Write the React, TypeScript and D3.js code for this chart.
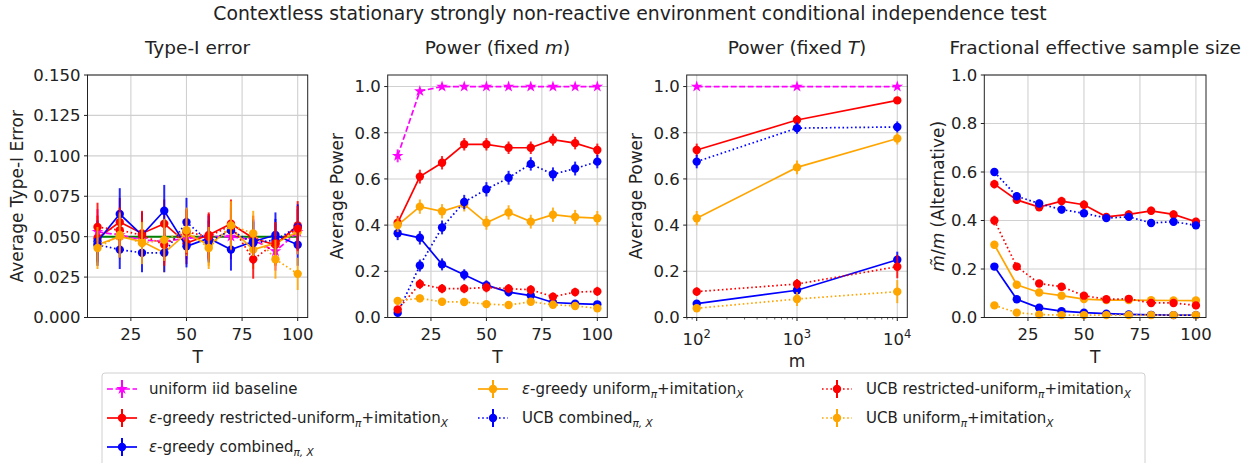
import React from 'react';
import * as d3 from 'd3';

// ---------------- DATA ----------------
const T_VALUES = [10, 20, 30, 40, 50, 60, 70, 80, 90, 100];
const M_VALUES = [100, 1000, 10000];
const SIGNIFICANCE_LEVEL = 0.05;

const typeITicks = [0, 0.025, 0.05, 0.075, 0.1, 0.125, 0.15];
const unitTicks = [0, 0.2, 0.4, 0.6, 0.8, 1.0];
const tTicks = [25, 50, 75, 100];
const mTicks = [100, 1000, 10000];

// Panel 1: Type-I error vs T
const t1Uniform = [0.053, 0.051, 0.048, 0.047, 0.049, 0.050, 0.050, 0.048, 0.041, 0.053];
const t1UniformErr = [0.014, 0.014, 0.013, 0.013, 0.013, 0.014, 0.014, 0.013, 0.012, 0.014];
const t1EgRestricted = [0.049, 0.059, 0.052, 0.058, 0.046, 0.051, 0.058, 0.049, 0.045, 0.057];
const t1EgRestrictedErr = [0.014, 0.015, 0.014, 0.015, 0.013, 0.014, 0.015, 0.014, 0.013, 0.015];
const t1EgCombined = [0.047, 0.064, 0.051, 0.066, 0.044, 0.049, 0.042, 0.047, 0.051, 0.045];
const t1EgCombinedErr = [0.013, 0.016, 0.014, 0.016, 0.013, 0.014, 0.013, 0.013, 0.014, 0.013];
const t1EgUniform = [0.045, 0.050, 0.047, 0.040, 0.052, 0.045, 0.055, 0.042, 0.046, 0.053];
const t1EgUniformErr = [0.013, 0.014, 0.013, 0.012, 0.014, 0.013, 0.014, 0.012, 0.013, 0.014];
const t1UcbCombined = [0.045, 0.042, 0.040, 0.040, 0.059, 0.047, 0.054, 0.046, 0.048, 0.056];
const t1UcbCombinedErr = [0.013, 0.012, 0.012, 0.012, 0.015, 0.013, 0.014, 0.013, 0.013, 0.014];
const t1UcbRestricted = [0.056, 0.054, 0.051, 0.045, 0.053, 0.050, 0.057, 0.036, 0.046, 0.055];
const t1UcbRestrictedErr = [0.015, 0.014, 0.014, 0.013, 0.014, 0.014, 0.015, 0.012, 0.013, 0.014];
const t1UcbUniform = [0.043, 0.051, 0.046, 0.048, 0.054, 0.043, 0.057, 0.052, 0.036, 0.027];
const t1UcbUniformErr = [0.013, 0.014, 0.013, 0.013, 0.014, 0.013, 0.015, 0.014, 0.012, 0.010];

// Panel 2: Power (fixed m) vs T
const pmUniform = [0.70, 0.98, 1.0, 1.0, 1.0, 1.0, 1.0, 1.0, 1.0, 1.0];
const pmUniformErr = [0.028, 0.009, 0, 0, 0, 0, 0, 0, 0, 0];
const pmEgRestricted = [0.41, 0.61, 0.67, 0.75, 0.75, 0.735, 0.735, 0.77, 0.755, 0.725];
const pmEgRestrictedErr = [0.03, 0.03, 0.029, 0.027, 0.027, 0.027, 0.027, 0.026, 0.027, 0.028];
const pmEgCombined = [0.365, 0.345, 0.23, 0.185, 0.14, 0.11, 0.095, 0.065, 0.06, 0.057];
const pmEgCombinedErr = [0.03, 0.029, 0.026, 0.024, 0.021, 0.019, 0.018, 0.015, 0.015, 0.014];
const pmEgUniform = [0.40, 0.48, 0.46, 0.49, 0.41, 0.455, 0.415, 0.445, 0.435, 0.43];
const pmEgUniformErr = [0.03, 0.031, 0.031, 0.031, 0.03, 0.031, 0.03, 0.031, 0.031, 0.031];
const pmUcbCombined = [0.02, 0.225, 0.39, 0.50, 0.555, 0.605, 0.665, 0.62, 0.645, 0.675];
const pmUcbCombinedErr = [0.009, 0.026, 0.03, 0.031, 0.031, 0.03, 0.029, 0.03, 0.03, 0.029];
const pmUcbRestricted = [0.035, 0.145, 0.125, 0.125, 0.13, 0.125, 0.12, 0.09, 0.11, 0.113];
const pmUcbRestrictedErr = [0.011, 0.022, 0.02, 0.02, 0.021, 0.02, 0.02, 0.018, 0.019, 0.02];
const pmUcbUniform = [0.072, 0.083, 0.068, 0.067, 0.058, 0.054, 0.068, 0.055, 0.05, 0.04];
const pmUcbUniformErr = [0.016, 0.017, 0.016, 0.016, 0.014, 0.014, 0.016, 0.014, 0.014, 0.012];

// Panel 3: Power (fixed T) vs m
const ptUniform = [1.0, 1.0, 1.0];
const ptUniformErr = [0, 0, 0];
const ptEgRestricted = [0.725, 0.855, 0.94];
const ptEgRestrictedErr = [0.028, 0.022, 0.015];
const ptEgCombined = [0.06, 0.118, 0.25];
const ptEgCombinedErr = [0.015, 0.02, 0.035];
const ptEgUniform = [0.43, 0.65, 0.775];
const ptEgUniformErr = [0.031, 0.03, 0.026];
const ptUcbCombined = [0.675, 0.82, 0.825];
const ptUcbCombinedErr = [0.029, 0.024, 0.024];
const ptUcbRestricted = [0.112, 0.145, 0.22];
const ptUcbRestrictedErr = [0.019, 0.022, 0.05];
const ptUcbUniform = [0.04, 0.08, 0.112];
const ptUcbUniformErr = [0.012, 0.03, 0.05];

// Panel 4: Fractional effective sample size vs T
const esEgRestricted = [0.55, 0.485, 0.455, 0.48, 0.465, 0.415, 0.425, 0.44, 0.425, 0.395];
const esEgRestrictedErr = [0.018, 0.017, 0.017, 0.018, 0.018, 0.016, 0.017, 0.017, 0.017, 0.016];
const esEgCombined = [0.21, 0.075, 0.04, 0.026, 0.02, 0.016, 0.013, 0.011, 0.01, 0.01];
const esEgCombinedErr = [0.012, 0.008, 0.005, 0.004, 0.003, 0.003, 0.002, 0.002, 0.002, 0.002];
const esEgUniform = [0.30, 0.135, 0.103, 0.09, 0.076, 0.072, 0.072, 0.071, 0.07, 0.07];
const esEgUniformErr = [0.014, 0.01, 0.008, 0.007, 0.006, 0.006, 0.006, 0.006, 0.006, 0.006];
const esUcbCombined = [0.60, 0.50, 0.47, 0.445, 0.43, 0.41, 0.415, 0.39, 0.395, 0.38];
const esUcbCombinedErr = [0.016, 0.016, 0.016, 0.016, 0.015, 0.015, 0.015, 0.015, 0.015, 0.015];
const esUcbRestricted = [0.40, 0.21, 0.14, 0.127, 0.09, 0.075, 0.077, 0.06, 0.06, 0.05];
const esUcbRestrictedErr = [0.02, 0.016, 0.013, 0.012, 0.01, 0.009, 0.009, 0.008, 0.008, 0.007];
const esUcbUniform = [0.05, 0.02, 0.012, 0.01, 0.01, 0.01, 0.01, 0.01, 0.01, 0.01];
const esUcbUniformErr = [0.006, 0.003, 0.002, 0.002, 0.002, 0.002, 0.002, 0.002, 0.002, 0.002];

// ---------------- STYLE ----------------
const FONT = 'DejaVu Sans, sans-serif';
const TOP = 75;
const BOTTOM = 317.5;
const PANEL_X: [number, number][] = [[87.5, 307.7], [387.7, 607.3], [686.7, 907.3], [984.3, 1206]];

type Style = { color: string; dash: string; marker: 'circle' | 'star' };
const STYLES: Record<string, Style> = {
  uniform: { color: '#ff00ff', dash: '5.9,2.6', marker: 'star' },
  egRestricted: { color: '#ff0000', dash: '', marker: 'circle' },
  egCombined: { color: '#0000ff', dash: '', marker: 'circle' },
  egUniform: { color: '#ffa500', dash: '', marker: 'circle' },
  ucbCombined: { color: '#0000ff', dash: '1.6,2.6', marker: 'circle' },
  ucbRestricted: { color: '#ff0000', dash: '1.6,2.6', marker: 'circle' },
  ucbUniform: { color: '#ffa500', dash: '1.6,2.6', marker: 'circle' },
};

const Sub = ({ children }: { children: React.ReactNode }) => (
  <tspan dy={4} fontSize={10.5} fontStyle="italic">{children}</tspan>
);
const Up = ({ children }: { children: React.ReactNode }) => <tspan dy={-4}>{children}</tspan>;
const Eps = () => <tspan fontStyle="italic">ε</tspan>;

const LEGEND: { key: string; label: React.ReactNode }[] = [
  { key: 'uniform', label: <>uniform iid baseline</> },
  { key: 'egRestricted', label: <><Eps />-greedy restricted-uniform<Sub>π</Sub><Up>+imitation</Up><Sub>X</Sub></> },
  { key: 'egCombined', label: <><Eps />-greedy combined<Sub>π, X</Sub></> },
  { key: 'egUniform', label: <><Eps />-greedy uniform<Sub>π</Sub><Up>+imitation</Up><Sub>X</Sub></> },
  { key: 'ucbCombined', label: <>UCB combined<Sub>π, X</Sub></> },
  { key: 'ucbRestricted', label: <>UCB restricted-uniform<Sub>π</Sub><Up>+imitation</Up><Sub>X</Sub></> },
  { key: 'ucbUniform', label: <>UCB uniform<Sub>π</Sub><Up>+imitation</Up><Sub>X</Sub></> },
];

type SeriesData = { key: string; values: number[]; errs: number[] };

const typeISeries: SeriesData[] = [
  { key: 'uniform', values: t1Uniform, errs: t1UniformErr },
  { key: 'egRestricted', values: t1EgRestricted, errs: t1EgRestrictedErr },
  { key: 'egCombined', values: t1EgCombined, errs: t1EgCombinedErr },
  { key: 'egUniform', values: t1EgUniform, errs: t1EgUniformErr },
  { key: 'ucbCombined', values: t1UcbCombined, errs: t1UcbCombinedErr },
  { key: 'ucbRestricted', values: t1UcbRestricted, errs: t1UcbRestrictedErr },
  { key: 'ucbUniform', values: t1UcbUniform, errs: t1UcbUniformErr },
];
const powerMSeries: SeriesData[] = [
  { key: 'uniform', values: pmUniform, errs: pmUniformErr },
  { key: 'egRestricted', values: pmEgRestricted, errs: pmEgRestrictedErr },
  { key: 'egCombined', values: pmEgCombined, errs: pmEgCombinedErr },
  { key: 'egUniform', values: pmEgUniform, errs: pmEgUniformErr },
  { key: 'ucbCombined', values: pmUcbCombined, errs: pmUcbCombinedErr },
  { key: 'ucbRestricted', values: pmUcbRestricted, errs: pmUcbRestrictedErr },
  { key: 'ucbUniform', values: pmUcbUniform, errs: pmUcbUniformErr },
];
const powerTSeries: SeriesData[] = [
  { key: 'uniform', values: ptUniform, errs: ptUniformErr },
  { key: 'egRestricted', values: ptEgRestricted, errs: ptEgRestrictedErr },
  { key: 'egCombined', values: ptEgCombined, errs: ptEgCombinedErr },
  { key: 'egUniform', values: ptEgUniform, errs: ptEgUniformErr },
  { key: 'ucbCombined', values: ptUcbCombined, errs: ptUcbCombinedErr },
  { key: 'ucbRestricted', values: ptUcbRestricted, errs: ptUcbRestrictedErr },
  { key: 'ucbUniform', values: ptUcbUniform, errs: ptUcbUniformErr },
];
const essSeries: SeriesData[] = [
  { key: 'egRestricted', values: esEgRestricted, errs: esEgRestrictedErr },
  { key: 'egCombined', values: esEgCombined, errs: esEgCombinedErr },
  { key: 'egUniform', values: esEgUniform, errs: esEgUniformErr },
  { key: 'ucbCombined', values: esUcbCombined, errs: esUcbCombinedErr },
  { key: 'ucbRestricted', values: esUcbRestricted, errs: esUcbRestrictedErr },
  { key: 'ucbUniform', values: esUcbUniform, errs: esUcbUniformErr },
];

const starPath = d3.symbol().type(d3.symbolStar).size(42)() as string;

function Marker({ x, y, s }: { x: number; y: number; s: Style }) {
  if (s.marker === 'star') return <path d={starPath} transform={`translate(${x},${y})`} fill={s.color} />;
  return <circle cx={x} cy={y} r={4.2} fill={s.color} />;
}

type PanelProps = {
  idx: number;
  title: React.ReactNode;
  xs: number[];
  logX: boolean;
  yDomain: [number, number];
  yTicks: number[];
  yFmt: (n: number) => string;
  ylabel: React.ReactNode;
  xlabel: string;
  series: SeriesData[];
  refLine?: number;
};

function Panel(p: PanelProps) {
  const [x0, x1] = PANEL_X[p.idx];
  const x: any = p.logX
    ? d3.scaleLog().domain([Math.pow(10, 1.9), Math.pow(10, 4.1)]).range([x0, x1])
    : d3.scaleLinear().domain([5.5, 104.5]).range([x0, x1]);
  const y = d3.scaleLinear().domain(p.yDomain).range([BOTTOM, TOP]);
  const xTicks = p.logX ? mTicks : tTicks;
  const minor: number[] = [];
  if (p.logX) {
    for (const dec of [10, 100, 1000]) for (let k = 2; k <= 9; k++) {
      const v = dec * k;
      const [a, b] = x.domain();
      if (v > a && v < b && v !== 100 && v !== 1000 && v !== 10000) minor.push(v);
    }
  }
  const line = d3.line<number>().x((_, i) => x(p.xs[i])).y((d) => y(d));
  const cx = (x0 + x1) / 2;
  return (
    <g>
      {/* grid */}
      {xTicks.map((t) => (
        <line key={'gx' + t} x1={x(t)} x2={x(t)} y1={TOP} y2={BOTTOM} stroke="#d0d0d0" strokeWidth={1.1} />
      ))}
      {p.yTicks.map((t) => (
        <line key={'gy' + t} x1={x0} x2={x1} y1={y(t)} y2={y(t)} stroke="#d0d0d0" strokeWidth={1.1} />
      ))}
      {p.refLine !== undefined && (
        <line x1={x(p.xs[0])} x2={x(p.xs[p.xs.length - 1])} y1={y(p.refLine)} y2={y(p.refLine)} stroke="#008000" strokeWidth={2} />
      )}
      {p.series.map((s) => {
        const st = STYLES[s.key];
        return (
          <g key={s.key}>
            <path d={line(s.values) as string} fill="none" stroke={st.color} strokeWidth={1.7} strokeDasharray={st.dash || undefined} />
            {s.values.map((v, i) => (
              <line key={i} x1={x(p.xs[i])} x2={x(p.xs[i])} y1={y(v - s.errs[i])} y2={y(v + s.errs[i])} stroke={st.color} strokeWidth={2} strokeOpacity={0.85} />
            ))}
            {s.values.map((v, i) => (
              <Marker key={'m' + i} x={x(p.xs[i])} y={y(v)} s={st} />
            ))}
          </g>
        );
      })}
      {/* frame */}
      <rect x={x0} y={TOP} width={x1 - x0} height={BOTTOM - TOP} fill="none" stroke="#222" strokeWidth={1} />
      {/* y ticks */}
      {p.yTicks.map((t) => (
        <g key={'yt' + t}>
          <line x1={x0 - 3.5} x2={x0} y1={y(t)} y2={y(t)} stroke="#222" />
          <text x={x0 - 7} y={y(t)} dy="0.36em" textAnchor="end" fontSize={16.5} fill="#222">{p.yFmt(t)}</text>
        </g>
      ))}
      {/* x ticks */}
      {xTicks.map((t) => (
        <g key={'xt' + t}>
          <line x1={x(t)} x2={x(t)} y1={BOTTOM} y2={BOTTOM + 3.5} stroke="#222" />
          {p.logX ? (
            <text x={x(t)} y={345} textAnchor="middle" fontSize={16.5} fill="#222">
              10<tspan dy={-7} fontSize={11.5}>{Math.round(Math.log10(t))}</tspan>
            </text>
          ) : (
            <text x={x(t)} y={339.5} textAnchor="middle" fontSize={16.5} fill="#222">{t}</text>
          )}
        </g>
      ))}
      {minor.map((t) => (
        <line key={'mt' + t} x1={x(t)} x2={x(t)} y1={BOTTOM} y2={BOTTOM + 2} stroke="#222" strokeWidth={0.7} />
      ))}
      <text x={cx} y={p.logX ? 366.5 : 362.5} textAnchor="middle" fontSize={17} fill="#222">{p.xlabel}</text>
      <text transform={`translate(${p.idx === 0 ? 22.5 : p.idx === 3 ? 943.5 : x0 - 44.5},${(TOP + BOTTOM) / 2}) rotate(-90)`} textAnchor="middle" fontSize={17} fill="#222">
        {p.ylabel}
      </text>
      <text x={cx} y={54} textAnchor="middle" fontSize={18.5} fill="#222">{p.title}</text>
    </g>
  );
}

function Legend() {
  const colX = [107, 478, 822];
  const rowY = [389, 418, 447];
  const perCol = [3, 2, 2];
  const items: { key: string; label: React.ReactNode; c: number; r: number }[] = [];
  let k = 0;
  perCol.forEach((n, c) => {
    for (let r = 0; r < n; r++) {
      items.push({ ...LEGEND[k], c, r });
      k++;
    }
  });
  return (
    <g>
      <rect x={102} y={373} width={1043} height={100} rx={3} fill="#fff" stroke="#d0d0d0" strokeWidth={1} />
      {items.map((it) => {
        const st = STYLES[it.key];
        const hx = colX[it.c];
        const hy = rowY[it.r];
        return (
          <g key={it.key}>
            <line x1={hx} x2={hx + 30} y1={hy} y2={hy} stroke={st.color} strokeWidth={1.7} strokeDasharray={st.dash || undefined} />
            <line x1={hx + 15} x2={hx + 15} y1={hy - 9} y2={hy + 9} stroke={st.color} strokeWidth={2} />
            <Marker x={hx + 15} y={hy} s={st} />
            <text x={hx + (it.c === 0 ? 42 : 44)} y={hy} dy="0.35em" fontSize={15} fill="#222">{it.label}</text>
          </g>
        );
      })}
    </g>
  );
}

export default function App() {
  const f3 = d3.format('.3f');
  const f1 = d3.format('.1f');
  return (
    <svg width={1260} height={463} style={{ position: 'absolute', left: 0, top: 0, background: '#fff' }} fontFamily={FONT}>
      <rect x={0} y={0} width={1260} height={463} fill="#fff" />
      <text x={630} y={20} textAnchor="middle" fontSize={18.8} fill="#222">
        Contextless stationary strongly non-reactive environment conditional independence test
      </text>
      <Panel idx={0} title="Type-I error" xs={T_VALUES} logX={false} yDomain={[0, 0.15]} yTicks={typeITicks} yFmt={f3}
        ylabel="Average Type-I Error" xlabel="T" series={typeISeries} refLine={SIGNIFICANCE_LEVEL} />
      <Panel idx={1} title={<>Power (fixed <tspan fontStyle="italic">m</tspan>)</>} xs={T_VALUES} logX={false} yDomain={[0, 1.05]}
        yTicks={unitTicks} yFmt={f1} ylabel="Average Power" xlabel="T" series={powerMSeries} />
      <Panel idx={2} title={<>Power (fixed <tspan fontStyle="italic">T</tspan>)</>} xs={M_VALUES} logX={true} yDomain={[0, 1.05]}
        yTicks={unitTicks} yFmt={f1} ylabel="Average Power" xlabel="m" series={powerTSeries} />
      <Panel idx={3} title="Fractional effective sample size" xs={T_VALUES} logX={false} yDomain={[0, 1.0]}
        yTicks={unitTicks} yFmt={f1}
        ylabel={<><tspan fontStyle="italic">m̃</tspan>/<tspan fontStyle="italic">m</tspan> (Alternative)</>}
        xlabel="T" series={essSeries} />
      <Legend />
    </svg>
  );
}
